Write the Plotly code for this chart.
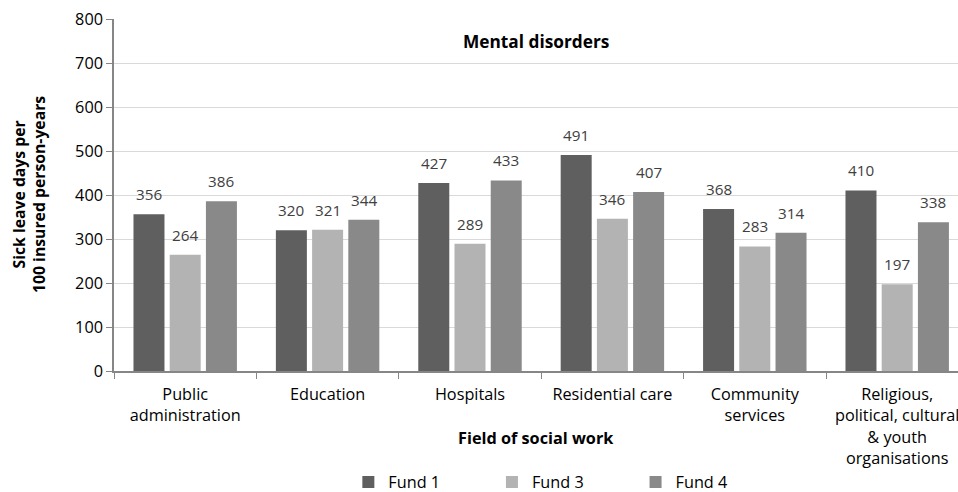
import plotly.graph_objects as go

categories = ["Public<br>administration", "Education", "Hospitals", "Residential care",
              "Community<br>services", "Religious,<br>political, cultural<br>& youth<br>organisations"]
fund1 = [356, 320, 427, 491, 368, 410]
fund3 = [264, 321, 289, 346, 283, 197]
fund4 = [386, 344, 433, 407, 314, 338]
series_names = ["Fund 1", "Fund 3", "Fund 4"]
colors = ["#5f5f5f", "#b3b3b3", "#898989"]

SY = 500 / 492   # vertical compensation for the capture
SF = 974 / 958   # font scale
W, H = 958, 500
ML, MR, MT, MB = 114, 0, 19 * SY, 121 * SY
BARGAP, GROUPGAP = 0.237, 0.144
XRANGE = [-0.5, -0.5 + 844 / 142.4]  # last category runs past the right edge

FONT = "'Open Sans', sans-serif"
fig = go.Figure()
for name, vals, col in zip(series_names, [fund1, fund3, fund4], colors):
    fig.add_trace(go.Bar(
        x=categories, y=vals, name=name, marker_color=col,
        marker_line_width=0,
    ))

# data labels above bars
plot_w = W - ML - MR
cat_px = plot_w / (XRANGE[1] - XRANGE[0])
slot = cat_px * (1 - BARGAP) / len(series_names)
annotations = []
for i, vals in enumerate([fund1, fund3, fund4]):
    for c, v in zip(categories, vals):
        annotations.append(dict(
            x=c, y=v, xref="x", yref="y", text=str(v), showarrow=False,
            xshift=(i - 1) * slot, yshift=8 * SY, yanchor="bottom",
            font=dict(size=15 * SF, color="#404040", family=FONT),
        ))

annotations += [
    dict(text="<b>Mental disorders</b>", x=0.5, y=0.935, xref="paper", yref="paper",
         showarrow=False, yanchor="middle", font=dict(size=17 * SF, color="#000000")),
    dict(text="<b>Field of social work</b>", x=0.5, y=-0.19, xref="paper", yref="paper",
         showarrow=False, yanchor="middle", font=dict(size=16 * SF, color="#000000")),
    dict(text="<b>Sick leave days per<br>100 insured person-years</b>",
         x=-(114 - 29) / 844, y=0.5, xref="paper", yref="paper", textangle=-90,
         showarrow=False, xanchor="center", yanchor="middle",
         font=dict(size=15.5 * SF, color="#000000")),
]

fig.update_layout(
    width=W, height=H,
    margin=dict(l=ML, r=MR, t=MT, b=MB, pad=0),
    paper_bgcolor="white", plot_bgcolor="white",
    barmode="group", bargap=BARGAP, bargroupgap=GROUPGAP,
    font=dict(family=FONT, size=15 * SF, color="#000000"),
    showlegend=True,
    legend=dict(orientation="h", x=0.533, xanchor="center", y=-0.318, yanchor="middle",
                font=dict(size=16 * SF, color="#000000"), entrywidth=98.6, itemwidth=30,
                traceorder="normal"),
    annotations=annotations,
)
fig.update_yaxes(
    range=[0, 800], dtick=100, showgrid=True, gridcolor="#d9d9d9", gridwidth=1,
    showline=True, linecolor="#868686", linewidth=1.5,
    ticks="outside", ticklen=6, tickcolor="#868686",
    tickfont=dict(size=16 * SF, color="#000000"),
    zeroline=False, automargin=False,
)
fig.update_xaxes(
    range=XRANGE,
    showline=True, linecolor="#868686", linewidth=1.5,
    ticks="outside", ticklen=6, tickcolor="#868686", tickson="boundaries",
    tickfont=dict(size=16 * SF, color="#000000"), automargin=False,
    ticklabelstandoff=8,
)
fig.write_html("out.html", config={"displayModeBar": False},
               post_script="document.body.style.margin='0';document.body.style.overflow='hidden';")
